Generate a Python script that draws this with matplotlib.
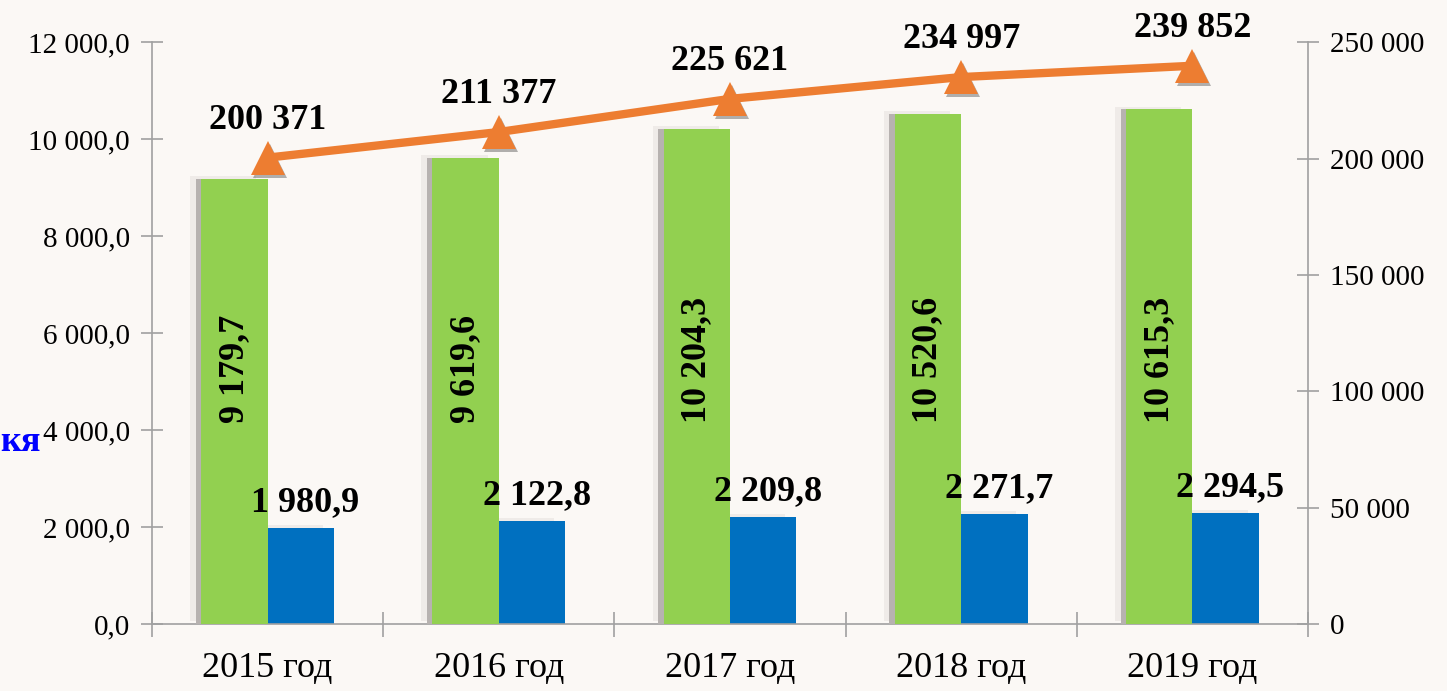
import numpy as np
import matplotlib.pyplot as plt
import matplotlib.patheffects as pe
import matplotlib.transforms as mtransforms

# Data
years = ['2015 год', '2016 год', '2017 год', '2018 год', '2019 год']
green_vals = [9179.7, 9619.6, 10204.3, 10520.6, 10615.3]
blue_vals = [1980.9, 2122.8, 2209.8, 2271.7, 2294.5]
line_vals = [200371, 211377, 225621, 234997, 239852]

GREEN = '#92D050'
BLUE = '#0070C0'
ORANGE = '#ED7D31'
BG = '#FBF8F5'
AXIS = '#A0A0A0'

plt.rcParams['font.family'] = ['Liberation Serif', 'DejaVu Serif']

def fmt(v, dec=1):
    s = f"{v:,.{dec}f}"
    return s.replace(',', ' ').replace('.', ',')

fig = plt.figure(figsize=(14.47, 6.91), dpi=100, facecolor=BG)
ax = fig.add_axes([0.105, 0.097, 0.799, 0.842])
ax.set_facecolor(BG)

x = np.arange(len(years))
w = 0.287

# soft halo + darker left edge shadow like the original
shadow = [pe.SimplePatchShadow(offset=(-8, 2), shadow_rgbFace='#efebe8', alpha=1),
          pe.SimplePatchShadow(offset=(-4, 0), shadow_rgbFace='#b7b2b0', alpha=1),
          pe.Normal()]

bars_b = ax.bar(x + w / 2, blue_vals, w, color=BLUE, zorder=2)
bars_g = ax.bar(x - w / 2, green_vals, w, color=GREEN, zorder=3)
for b in list(bars_b) + list(bars_g):
    b.set_path_effects(shadow)

for xi, v in zip(x, green_vals):
    ax.text(xi - w / 2, 4150, fmt(v), rotation=90, ha='center', va='bottom',
            fontsize=26, fontweight='bold', zorder=5)
for xi, v in zip(x, blue_vals):
    ax.text(xi + w / 2 + 0.02, v + 350, fmt(v), ha='center', va='baseline',
            fontsize=26, fontweight='bold', zorder=5)

ax.set_xlim(-0.5, 4.5)
ax.set_ylim(0, 12000)
ax.set_yticks(np.arange(0, 12001, 2000))
ax.set_yticklabels([fmt(v) for v in np.arange(0, 12001, 2000)])
ax.set_xticks(x)
ax.set_xticklabels(years)
ax.set_xticks(np.arange(-0.5, 4.6, 1), minor=True)
ax.tick_params(axis='x', which='major', length=0, pad=20, labelsize=26)
ax.tick_params(axis='x', which='minor', direction='inout', length=18, color=AXIS, width=1.2)
ax.tick_params(axis='y', direction='inout', length=16, color=AXIS, width=1.2, labelsize=21, pad=8)
for s in ['top', 'right']:
    ax.spines[s].set_visible(False)
for s in ['left', 'bottom']:
    ax.spines[s].set_color(AXIS)
    ax.spines[s].set_linewidth(1.2)

ax2 = ax.twinx()
ax2.set_ylim(0, 250000)
ax2.set_yticks(np.arange(0, 250001, 50000))
ax2.set_yticklabels([fmt(v, 0) for v in np.arange(0, 250001, 50000)])
ax2.tick_params(axis='y', direction='inout', length=16, color=AXIS, width=1.2, labelsize=21, pad=8)
for s in ['top', 'left', 'bottom']:
    ax2.spines[s].set_visible(False)
ax2.spines['right'].set_color(AXIS)
ax2.spines['right'].set_linewidth(1.2)

# marker shadows, then the line itself
shift = ax2.transData + mtransforms.ScaledTranslation(2 / 100, -3 / 100, fig.dpi_scale_trans)
ax2.plot(x, line_vals, ls='none', marker='^', markersize=24, color='#555555',
         alpha=0.45, markeredgewidth=0, zorder=4, transform=shift)
ax2.plot(x, line_vals, color=ORANGE, lw=6, marker='^', markersize=24,
         markeredgewidth=0, zorder=4)
for xi, v in zip(x, line_vals):
    ax2.text(xi, v + 12500, fmt(v, 0), ha='center', va='baseline',
             fontsize=26, fontweight='bold', zorder=5)

fig.text(0.0, 0.36, 'кя', color='#0000FF', fontsize=26, fontweight='bold',
         ha='left', va='center')

fig.savefig('out.png', dpi=100, facecolor=BG)
